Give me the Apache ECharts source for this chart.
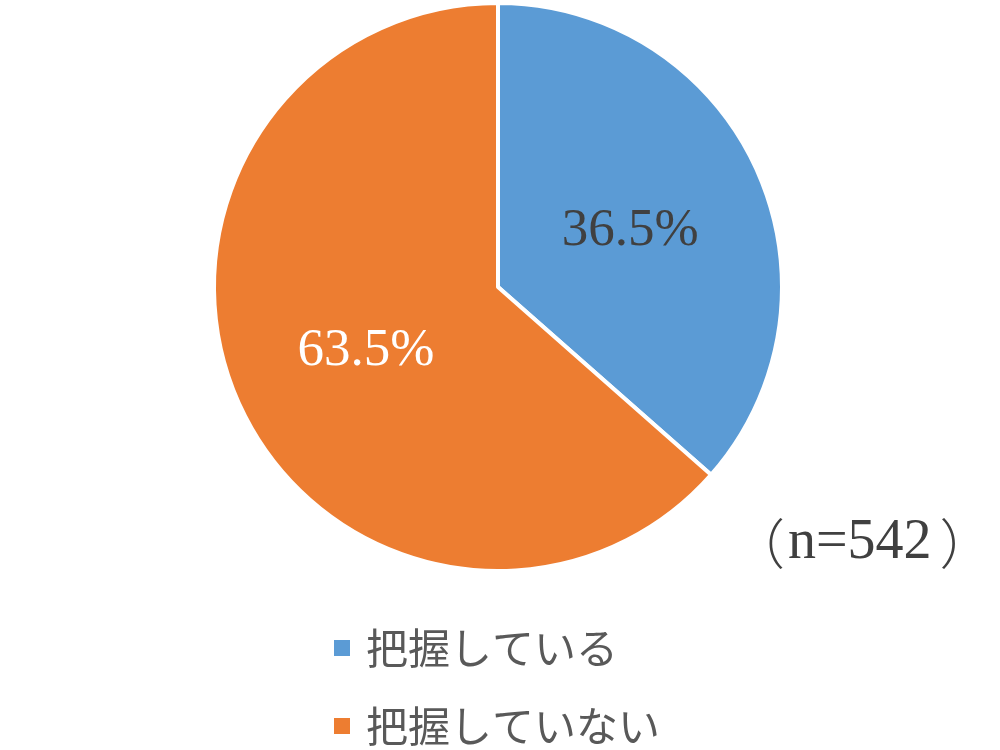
<!DOCTYPE html>
<html>
<head>
<meta charset="utf-8">
<script src="https://cdn.jsdelivr.net/npm/echarts@6/dist/echarts.min.js"></script>
<style>html,body{margin:0;padding:0;background:#fff;}#c{width:1000px;height:750px;}</style>
</head>
<body>
<div id="c"></div>
<script>
const categories = ['把握している', '把握していない'];
const values = [36.5, 63.5];
const colors = ['#5B9BD5', '#ED7D31'];
const labelColors = ['#404040', '#FFFFFF'];
const sampleSize = 542;

const legendText = {
  fontFamily: '"Noto Sans CJK JP", sans-serif',
  fontSize: 42,
  lineHeight: 42,
  color: '#595959',
  padding: [0, 0, 0, 10]
};
function makeLegend(name, top) {
  return {
    orient: 'vertical',
    left: 332,
    top: top,
    padding: 0,
    itemWidth: 18,
    itemHeight: 18,
    icon: 'rect',
    data: [name],
    textStyle: legendText
  };
}

const chart = echarts.init(document.getElementById('c'));
chart.setOption({
  animation: false,
  backgroundColor: '#fff',
  legend: [makeLegend(categories[0], 627), makeLegend(categories[1], 705)],
  graphic: [{
    type: 'text',
    left: 731,
    top: 515,
    style: {
      text: '{p1|（}{t|n=' + sampleSize + '}{p2|）}',
      rich: {
        p1: { fontFamily: '"Noto Sans CJK JP", sans-serif', fontSize: 54, fill: '#404040', fontWeight: 300, padding: [0, 3, 0, 0] },
        p2: { fontFamily: '"Noto Sans CJK JP", sans-serif', fontSize: 54, fill: '#404040', fontWeight: 300, padding: [0, 0, 0, 8] },
        t: { fontFamily: '"Liberation Serif", serif', fontSize: 56, fill: '#404040' }
      }
    }
  }],
  series: [{
    type: 'pie',
    center: [498, 287],
    radius: [0, 284],
    startAngle: 90,
    clockwise: true,
    data: categories.map((n, i) => ({
      name: n,
      value: values[i],
      itemStyle: { color: colors[i] },
      label: { color: labelColors[i] }
    })),
    itemStyle: { borderColor: '#fff', borderWidth: 4 },
    label: {
      show: true,
      position: 'inside',
      formatter: p => p.value.toFixed(1) + '%',
      fontFamily: '"Liberation Serif", serif',
      fontSize: 53,
      offset: [0, 4]
    },
    labelLine: { show: false }
  }]
});
</script>
</body>
</html>
